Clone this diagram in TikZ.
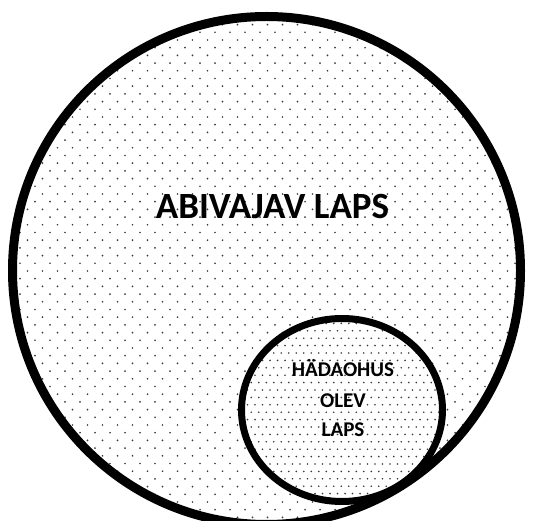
\documentclass[tikz,border=0pt]{standalone}
\usepackage{fontspec}
\setmainfont{Carlito}
\definecolor{dotc}{HTML}{3A3A3A}
\tikzset{
  ring/.style={draw=black},
  dotmark/.style={fill=dotc},
  lbl/.style={font=\bfseries, text=black, inner sep=0pt}
}
\begin{document}
\begin{tikzpicture}[x=1pt,y=-1pt]
\useasboundingbox[fill=white] (0,0) rectangle (533,521);
\coordinate (bc) at (266.5,270.5);
\coordinate (sc) at (342,410);
% big circle pattern
\begin{scope}
  \clip (bc) circle (254);
  \foreach \r in {0,...,68}{
    \pgfmathsetmacro\yy{1.5+7.7*\r}
    \pgfmathsetmacro\xo{5+7.5*mod(\r,2)}
    \foreach \c in {0,...,35}{
      \fill[dotmark] ({\xo+15*\c},\yy) circle (0.95);
    }
  }
\end{scope}
% small ellipse pattern
\fill[white] (sc) ellipse [x radius=100.5, y radius=91.5];
\begin{scope}
  \clip (sc) ellipse [x radius=100.5, y radius=91.5];
  \foreach \r in {0,...,26}{
    \pgfmathsetmacro\yy{316+7.4*\r}
    \pgfmathsetmacro\xo{240+3.75*mod(\r,2)}
    \foreach \c in {0,...,28}{
      \fill[dotmark] ({\xo+7.5*\c},\yy) circle (0.9);
    }
  }
\end{scope}
\draw[ring, line width=9pt] (bc) circle (254);
\draw[ring, line width=7pt] (sc) ellipse [x radius=100.5, y radius=91.5];
\node[lbl, anchor=base] (big) at (272.5,219) {\fontsize{37}{40}\selectfont ABIVAJAV LAPS};
\node[lbl, anchor=base] (s1) at (343,377) {\fontsize{21}{24}\selectfont HÄDAOHUS};
\node[lbl, anchor=base] (s2) at (343,407) {\fontsize{21}{24}\selectfont OLEV};
\node[lbl, anchor=base] (s3) at (343,436) {\fontsize{21}{24}\selectfont LAPS};
\end{tikzpicture}
\end{document}
